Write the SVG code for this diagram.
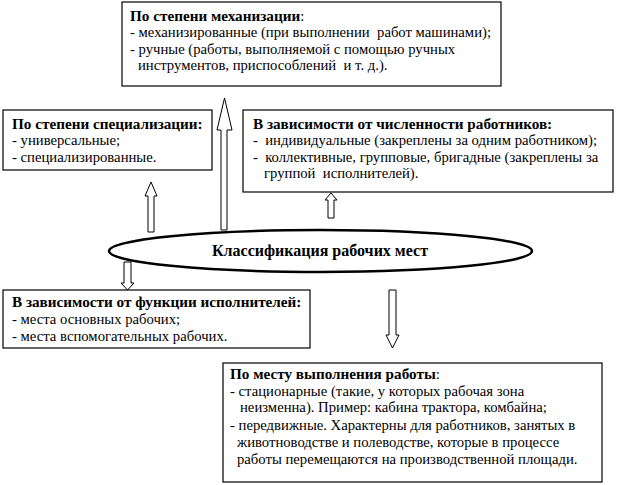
<svg xmlns="http://www.w3.org/2000/svg" width="618" height="485" viewBox="0 0 618 485">
<style>
.box{fill:#fff;stroke:#000;stroke-width:1.2}
.arr{fill:#fff;stroke:#000;stroke-width:1}
.t text{font-size:14.7px;fill:#000;white-space:pre}
.t .b{font-weight:bold;font-size:15.2px}
</style>
<rect width="618" height="485" fill="#fff"/>
<g id="connectors">
<polygon class="arr" points="221,230 221,130 217,130 224.5,98 232,130 227,130 227,230"/>
<polygon class="arr" points="148,232 148,196 145,196 151,182 157,196 154,196 154,232"/>
<polygon class="arr" points="328,218 328,200 325,200 331,193 337,200 334,200 334,218"/>
<polygon class="arr" points="124,262 131,262 131,283 134,283 127.5,290 121,283 124,283"/>
<polygon class="arr" points="389,290 396,290 396,335 399,335 392.5,348 386,335 389,335"/>
</g>
<g class="t" font-family="Liberation Serif, Times New Roman, serif">
<g id="node-center">
<ellipse cx="320.5" cy="251" rx="211.5" ry="21" fill="#fff" stroke="#000" stroke-width="2.5"/>
<text x="320" y="256" text-anchor="middle" class="b" style="font-size:16px">Классификация рабочих мест</text>
</g>
<g id="node-mechanization">
<rect class="box" x="122" y="2" width="379" height="84"/>
<text x="130" y="21"><tspan class="b">По степени механизации</tspan>:</text>
<text x="130" y="37">- механизированные (при выполнении  работ машинами);</text>
<text x="130" y="54">- ручные (работы, выполняемой с помощью ручных</text>
<text x="138" y="70">инструментов, приспособлений  и т. д.).</text>
</g>
<g id="node-specialization">
<rect class="box" x="3" y="110" width="209" height="60"/>
<text x="12" y="129" class="b">По степени специализации:</text>
<text x="12" y="145">- универсальные;</text>
<text x="12" y="162">- специализированные.</text>
</g>
<g id="node-workers">
<rect class="box" x="243" y="110" width="370" height="82"/>
<text x="253" y="129" class="b">В зависимости от численности работников:</text>
<text x="253" y="145">-  индивидуальные (закреплены за одним работником);</text>
<text x="253" y="162">-  коллективные, групповые, бригадные (закреплены за</text>
<text x="264" y="178">группой  исполнителей).</text>
</g>
<g id="node-function">
<rect class="box" x="3" y="290" width="307" height="58"/>
<text x="12" y="307" class="b">В зависимости от функции исполнителей:</text>
<text x="12" y="324">- места основных рабочих;</text>
<text x="12" y="341">- места вспомогательных рабочих.</text>
</g>
<g id="node-place">
<rect class="box" x="223" y="363" width="379" height="119"/>
<text x="230" y="379"><tspan class="b">По месту выполнения работы</tspan>:</text>
<text x="230" y="396">- стационарные (такие, у которых рабочая зона</text>
<text x="240" y="412">неизменна). Пример: кабина трактора, комбайна;</text>
<text x="230" y="430">- передвижные. Характерны для работников, занятых в</text>
<text x="237" y="447">животноводстве и полеводстве, которые в процессе</text>
<text x="237" y="464">работы перемещаются на производственной площади.</text>
</g>
</g>
</svg>
